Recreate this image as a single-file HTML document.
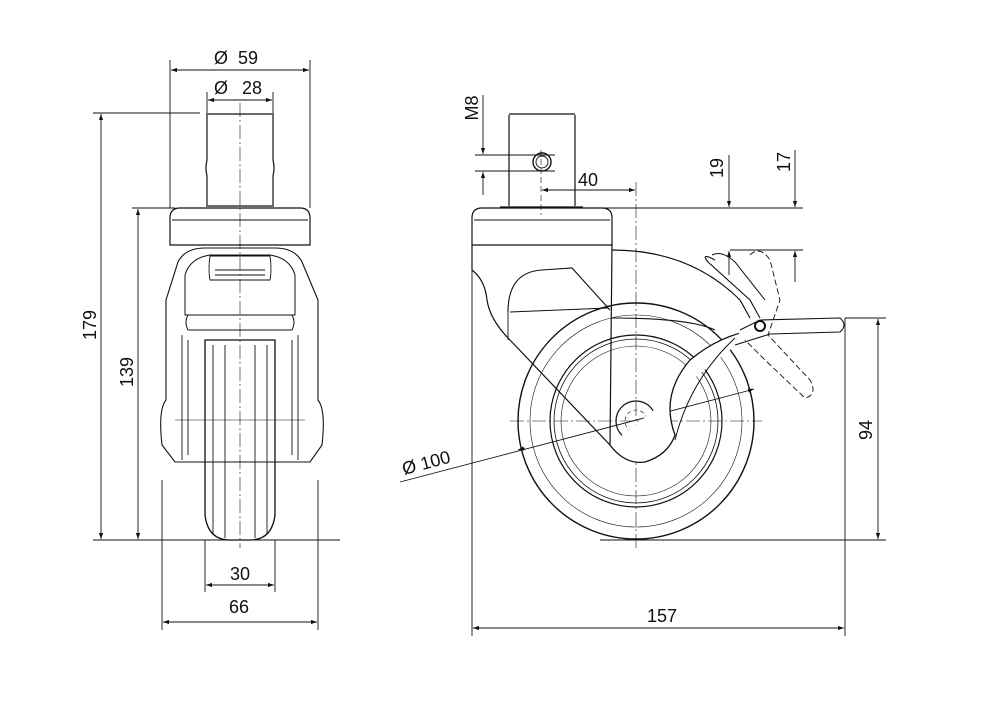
<!DOCTYPE html>
<html><head><meta charset="utf-8"><style>
html,body{margin:0;padding:0;background:#fff;}
svg{display:block}
text{font-family:"Liberation Sans Narrow","Liberation Sans",sans-serif;font-size:18px;fill:#111}
</style></head><body>
<svg width="1000" height="707" viewBox="0 0 1000 707" xmlns="http://www.w3.org/2000/svg">
<defs>
<marker id="a" viewBox="0 0 10 10" refX="10" refY="5" markerWidth="11" markerHeight="6" orient="auto-start-reverse" markerUnits="userSpaceOnUse"><path d="M0,1.5 L10,5 L0,8.5z" fill="#111"/></marker>
</defs>
<g fill="none" stroke="#111" stroke-width="0.9">
<!-- ===== LEFT VIEW dims ===== -->
<line x1="170" y1="60" x2="170" y2="208"/><line x1="310" y1="60" x2="310" y2="208"/>
<line x1="171" y1="70" x2="309" y2="70" marker-start="url(#a)" marker-end="url(#a)"/>
<line x1="207" y1="92" x2="207" y2="113"/><line x1="273" y1="92" x2="273" y2="113"/>
<line x1="208" y1="100" x2="272" y2="100" marker-start="url(#a)" marker-end="url(#a)"/>
<line x1="93" y1="113" x2="200" y2="113"/>
<line x1="101" y1="114" x2="101" y2="539" marker-start="url(#a)" marker-end="url(#a)"/>
<line x1="132" y1="208" x2="175" y2="208"/>
<line x1="138" y1="209" x2="138" y2="539" marker-start="url(#a)" marker-end="url(#a)"/>
<line x1="93" y1="540" x2="340" y2="540"/>
<line x1="162" y1="480" x2="162" y2="630"/><line x1="318" y1="480" x2="318" y2="630"/>
<line x1="205" y1="540" x2="205" y2="592"/><line x1="275" y1="540" x2="275" y2="592"/>
<line x1="206" y1="585" x2="274" y2="585" marker-start="url(#a)" marker-end="url(#a)"/>
<line x1="163" y1="622" x2="317" y2="622" marker-start="url(#a)" marker-end="url(#a)"/>
<!-- left view body -->
<line x1="240" y1="103" x2="240" y2="548" stroke-dasharray="14,3,2,3" stroke-width="0.6"/>
<path d="M207,115 L207,160 Q205,168 207,176 L207,205 M273,115 L273,160 Q275,168 273,176 L273,205 M206,114 L274,114 M206,206 L274,206" stroke-width="1.2"/>
<path d="M180,208 L300,208 Q310,208 310,218 L310,245 L170,245 L170,218 Q170,208 180,208z" stroke-width="1.2"/>
<line x1="172" y1="220" x2="308" y2="220"/>
<path d="M178,262 Q185,248 205,248 L275,248 Q295,248 302,262 L318,300 L318,400 Q326,410 322,445 L310,462 L175,462 L162,445 Q158,410 166,400 L166,300z" stroke-width="1.1"/>
<path d="M185,275 Q190,258 210,255 L270,255 Q290,258 295,275 L295,315 L185,315z" stroke-width="1"/>
<path d="M210,256 L270,256 Q272,270 270,280 L210,280 Q208,270 210,256z"/>
<line x1="215" y1="270" x2="265" y2="270"/><line x1="215" y1="275" x2="265" y2="275"/>
<path d="M188,315 L292,315 Q296,322 292,330 L188,330 Q184,322 188,315z" stroke-width="1"/>
<path d="M182,335 L182,460 M298,335 L298,460 M188,340 L188,455 M292,340 L292,455"/>
<path d="M205,340 L205,515 Q208,540 230,540 L250,540 Q272,540 275,515 L275,340 L205,340z" stroke-width="1.3"/>
<line x1="213" y1="345" x2="213" y2="535"/><line x1="267" y1="345" x2="267" y2="535"/>
<line x1="225" y1="345" x2="225" y2="538"/><line x1="255" y1="345" x2="255" y2="538"/>
<line x1="175" y1="420" x2="305" y2="420" stroke-width="0.5"/>
<!-- ===== RIGHT VIEW dims ===== -->
<line x1="483" y1="95" x2="483" y2="154" marker-end="url(#a)"/>
<line x1="483" y1="172" x2="483" y2="195" marker-start="url(#a)"/>
<line x1="475" y1="155" x2="555" y2="155"/><line x1="475" y1="171" x2="555" y2="171"/>
<line x1="541" y1="150" x2="541" y2="215" stroke-dasharray="6,3" stroke-width="0.6"/>
<line x1="542" y1="190" x2="635" y2="190" marker-start="url(#a)" marker-end="url(#a)"/>
<line x1="636" y1="182" x2="636" y2="548" stroke-dasharray="14,3,2,3" stroke-width="0.6"/>
<line x1="590" y1="208" x2="803" y2="208"/>
<line x1="730" y1="250" x2="803" y2="250"/>
<line x1="729" y1="155" x2="729" y2="207" marker-end="url(#a)"/>
<line x1="729" y1="251" x2="729" y2="275" marker-start="url(#a)"/>
<line x1="795" y1="150" x2="795" y2="207" marker-end="url(#a)"/>
<line x1="795" y1="251" x2="795" y2="282" marker-start="url(#a)"/>
<line x1="472" y1="245" x2="472" y2="636"/><line x1="845" y1="318" x2="845" y2="636"/>
<line x1="473" y1="628" x2="844" y2="628" marker-start="url(#a)" marker-end="url(#a)"/>
<line x1="600" y1="540" x2="886" y2="540"/><line x1="845" y1="318" x2="886" y2="318"/>
<line x1="878" y1="319" x2="878" y2="539" marker-start="url(#a)" marker-end="url(#a)"/>
<line x1="400" y1="482" x2="747" y2="391"/>
<line x1="525" y1="448" x2="518" y2="450" marker-end="url(#a)"/>
<line x1="747" y1="391" x2="754" y2="389" marker-end="url(#a)"/>
<line x1="510" y1="421" x2="762" y2="421" stroke-dasharray="14,3,2,3" stroke-width="0.6"/>
<!-- right view body -->
<path d="M509,115 L509,206 M575,115 L575,206 M509,114 L575,114 M500,207 L583,207" stroke-width="1.2"/>
<circle cx="542" cy="162" r="9" stroke-width="1.4"/><circle cx="542" cy="162" r="6"/>
<path d="M482,208 L602,208 Q612,208 612,218 L612,245 L472,245 L472,218 Q472,208 482,208z" stroke-width="1.2"/>
<line x1="474" y1="220" x2="610" y2="220"/>
<path d="M472,245 L472,270 Q485,280 487,300 Q490,320 510,340 L610,445 L612,245" stroke-width="1.2"/>
<path d="M612,250 Q690,250 740,300 L750,318" stroke-width="1.2"/>
<path d="M612,318 Q690,318 715,330" stroke-width="1.1"/>
<path d="M508,312 Q508,272 542,270 L572,268 L610,310" stroke-width="1.1"/>
<line x1="510" y1="312" x2="608" y2="308"/><line x1="508" y1="312" x2="508" y2="340"/>
<circle cx="636" cy="421" r="118" stroke-width="1.4"/>
<circle cx="636" cy="421" r="106" stroke-width="0.6"/>
<circle cx="636" cy="421" r="86" stroke-width="1.2"/>
<circle cx="636" cy="421" r="82" stroke-width="0.8"/>
<circle cx="636" cy="421" r="75" stroke-width="0.6"/>
<circle cx="636" cy="421" r="20" stroke-width="1.2"/>
<circle cx="636" cy="421" r="11" stroke-dasharray="4,3" stroke-width="0.6"/>
<path d="M610,445 Q625,465 645,462 Q668,455 675,435 Q660,395 690,360 Q720,335 755,330" stroke-width="1.3" fill="#fff"/>
<path d="M675,440 Q690,380 735,338" stroke-width="1"/>
<path d="M740,330 L760,320 L840,318 Q848,325 840,332 L770,334 L735,345" stroke-width="1.1" fill="#fff"/>
<path d="M715,260 Q700,252 708,262 L750,300 L760,318" stroke-width="1.1"/>
<path d="M712,255 Q722,250 735,262 L765,300" stroke-width="1"/>
<path d="M750,255 Q760,245 770,260 L780,300 L768,335 L810,380 Q818,395 805,398 L765,360 L745,340" stroke-dasharray="6,3" stroke-width="0.9"/>
<circle cx="760" cy="326" r="5" stroke-width="2"/>
</g>
<text x="214" y="64">Ø</text><text x="238" y="64">59</text>
<text x="214" y="94">Ø</text><text x="242" y="94">28</text>
<text x="230" y="580">30</text><text x="229" y="613">66</text>
<text transform="translate(96,325) rotate(-90)" text-anchor="middle">179</text>
<text transform="translate(133,372) rotate(-90)" text-anchor="middle">139</text>
<text transform="translate(478,108) rotate(-90)" text-anchor="middle">M8</text>
<text x="578" y="186">40</text>
<text transform="translate(723,168) rotate(-90)" text-anchor="middle">19</text>
<text transform="translate(790,162) rotate(-90)" text-anchor="middle">17</text>
<text transform="translate(872,430) rotate(-90)" text-anchor="middle">94</text>
<text x="647" y="622">157</text>
<text transform="translate(404,475) rotate(-15)">Ø  100</text>
</svg>
</body></html>
